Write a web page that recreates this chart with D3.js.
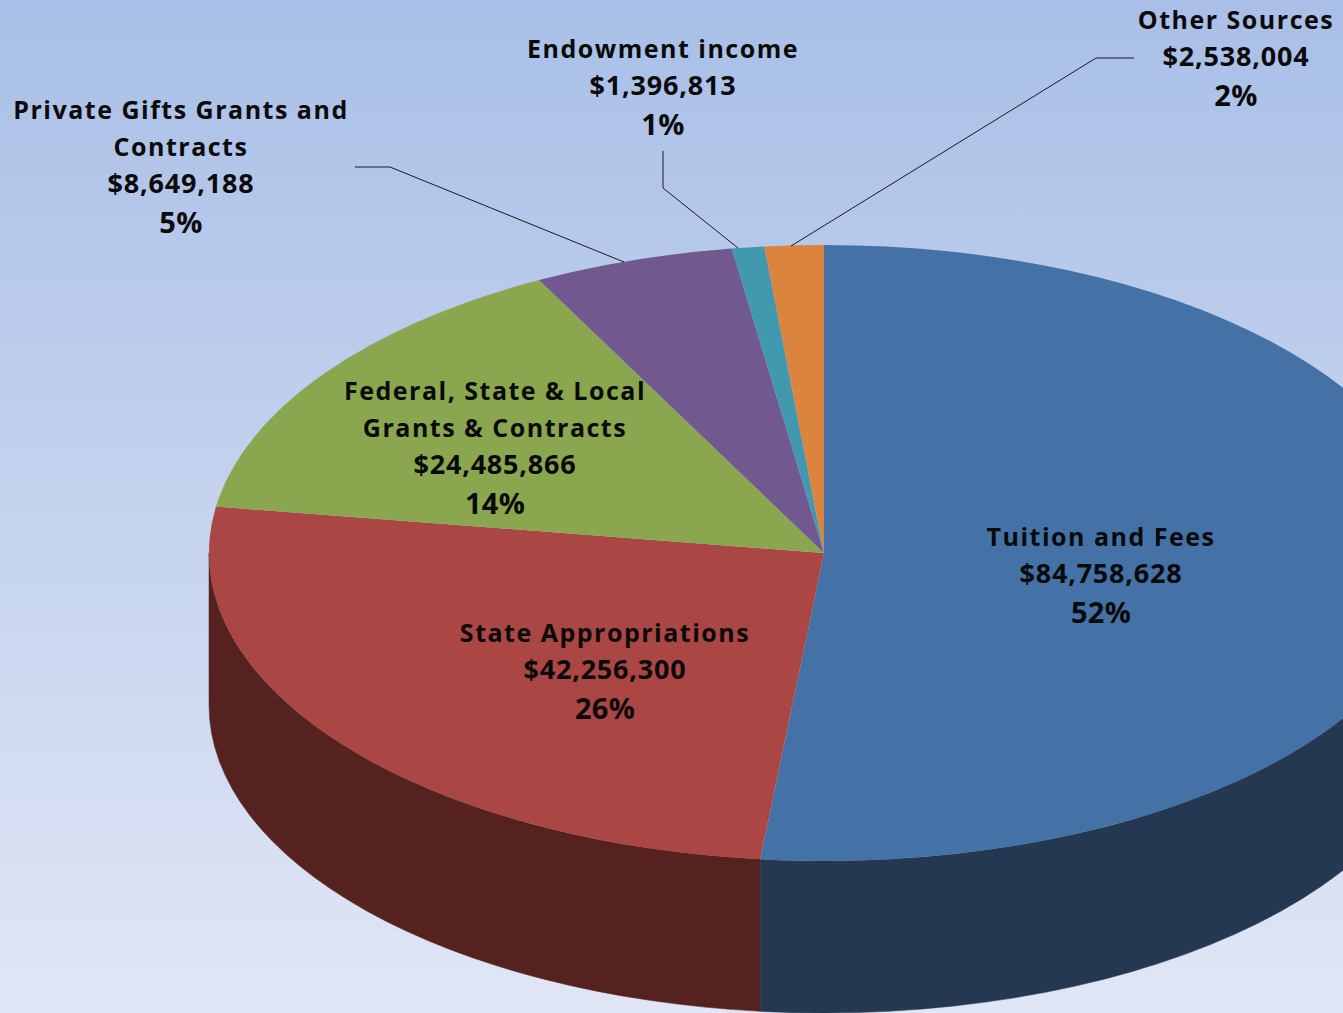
<!DOCTYPE html>
<html><head><meta charset="utf-8">
<script src="https://cdn.jsdelivr.net/npm/d3@7/dist/d3.min.js"></script>
<style>html,body{margin:0;padding:0;overflow:hidden;background:#dfe6f5}svg{display:block}</style>
</head><body><svg id="c" width="1343" height="1013"></svg>
<script>
const categories=["Tuition and Fees","State Appropriations","Federal, State & Local Grants & Contracts","Private Gifts Grants and Contracts","Endowment income","Other Sources"];
const values=[84758628,42256300,24485866,8649188,1396813,2538004];
const percents=["52%","26%","14%","5%","1%","2%"];
const amountLabels=["$84,758,628","$42,256,300","$24,485,866","$8,649,188","$1,396,813","$2,538,004"];
const topColors=["#4472a6","#aa4643","#8aa64f","#71588f","#4298af","#db843d"];
const sideColors=["#243951","#55221f","#45532a","#382c47","#214c57","#6d421e"];
const labelLines=[["Tuition and Fees"],["State Appropriations"],["Federal, State & Local","Grants & Contracts"],["Private Gifts Grants and","Contracts"],["Endowment income"],["Other Sources"]];
const labelCentres=[[1101,537],[605,633],[495,391],[181,110],[663,49],[1236,20]];
const leaderPaths=[null,null,null,[[355,167],[390,167],[624,262]],[[663,151],[663,188],[738,248]],[[1134,58],[1096,58],[791,246]]];

const W=1343,H=1013,cx=824,cy=553,rx=615,ry=308,depth=152;
const svg=d3.select("#c");
const defs=svg.append("defs");
const g=defs.append("linearGradient").attr("id","bg").attr("x1",0).attr("x2",0).attr("y1",0).attr("y2",1);
g.append("stop").attr("offset","0%").attr("stop-color","#a9bfe7");
g.append("stop").attr("offset","100%").attr("stop-color","#e0e6f5");
svg.append("rect").attr("width",W).attr("height",H).attr("fill","url(#bg)");

const pie=d3.pie().sort(null).value(d=>d);
const arcs=pie(values);
const pt=(a,dy=0)=>[cx+rx*Math.sin(a),cy-ry*Math.cos(a)+dy];
arcs.forEach((d,i)=>{
  const a0=Math.max(d.startAngle,Math.PI/2),a1=Math.min(d.endAngle,3*Math.PI/2);
  if(a1<=a0)return;
  const p0=pt(a0),p1=pt(a1),q1=pt(a1,depth),q0=pt(a0,depth);
  svg.append("path").attr("fill",sideColors[i]).attr("stroke",sideColors[i]).attr("stroke-width",0.5)
    .attr("d",`M${p0}A${rx},${ry} 0 0 1 ${p1}L${q1}A${rx},${ry} 0 0 0 ${q0}Z`);
});
const arcGen=d3.arc().innerRadius(0).outerRadius(rx);
const topFace=svg.append("g").attr("transform",`translate(${cx},${cy}) scale(1,${ry/rx})`);
topFace.selectAll("path").data(arcs).join("path").attr("d",arcGen).attr("fill",(d,i)=>topColors[i]);

const line=d3.line();
leaderPaths.forEach(p=>{if(p)svg.append("path").attr("d",line(p)).attr("fill","none").attr("stroke","#1a1a1a").attr("stroke-width",1);});

const text=svg.append("g").attr("font-family","'Open Sans',sans-serif").attr("font-weight",700).attr("fill","#0a0a0a").attr("text-anchor","middle");
categories.forEach((c,i)=>{
  const [x,y0]=labelCentres[i];
  let y=y0+9;
  labelLines[i].forEach(t=>{
    text.append("text").attr("x",x).attr("y",y).attr("font-size",25).attr("letter-spacing","1.5px").text(t);
    y+=37;
  });
  text.append("text").attr("x",x).attr("y",y).attr("font-size",27).attr("letter-spacing","0.8px").text(amountLabels[i]);
  y+=40;
  text.append("text").attr("x",x).attr("y",y).attr("font-size",29).attr("letter-spacing","0.3px").text(percents[i]);
});
</script></body></html>
